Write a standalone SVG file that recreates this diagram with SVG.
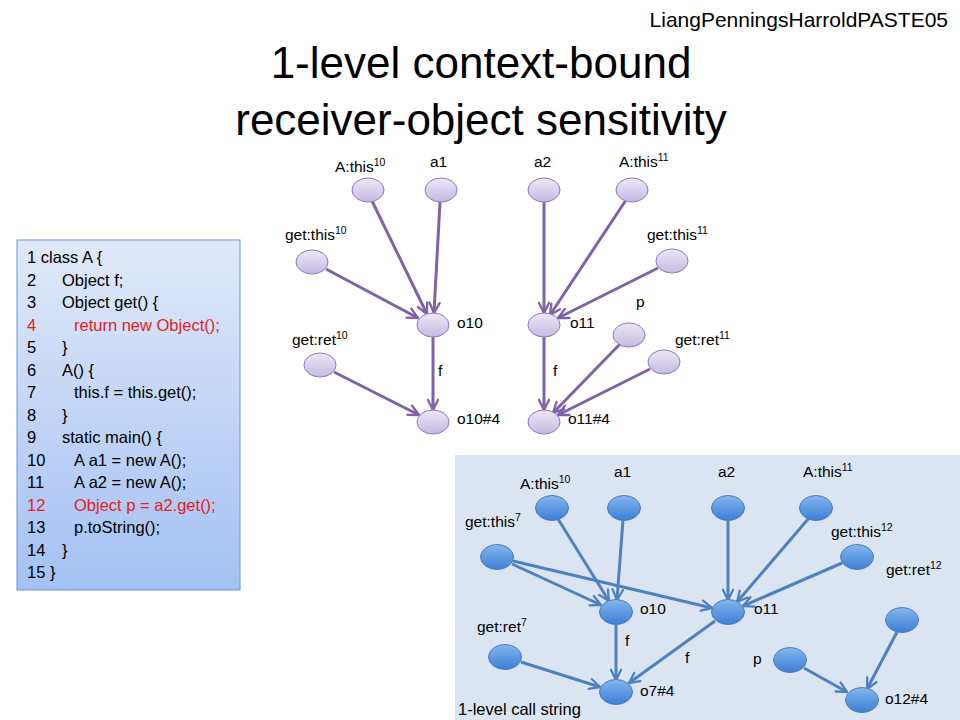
<svg xmlns="http://www.w3.org/2000/svg" width="960" height="720" viewBox="0 0 960 720">
<defs>
<linearGradient id="gCode" x1="0" y1="0" x2="0" y2="1">
<stop offset="0" stop-color="#e0e9f9"/><stop offset="1" stop-color="#a3c1f3"/>
</linearGradient>
<linearGradient id="gPurple" x1="0" y1="0" x2="0" y2="1">
<stop offset="0" stop-color="#ede8f6"/><stop offset="1" stop-color="#c5b9e2"/>
</linearGradient>
<linearGradient id="gBlue" x1="0" y1="0" x2="0" y2="1">
<stop offset="0" stop-color="#86b6ee"/><stop offset="1" stop-color="#3c7ed6"/>
</linearGradient>
<marker id="ap" viewBox="0 0 10 10" refX="9" refY="5" markerWidth="4.3" markerHeight="4.3" orient="auto" markerUnits="strokeWidth">
<path d="M1,1 L9,5 L1,9" fill="none" stroke="#7f63a8" stroke-width="1.8" stroke-linecap="round" stroke-linejoin="round"/>
</marker>
<marker id="ab" viewBox="0 0 10 10" refX="9" refY="5" markerWidth="4.3" markerHeight="4.3" orient="auto" markerUnits="strokeWidth">
<path d="M1,1 L9,5 L1,9" fill="none" stroke="#4f81bd" stroke-width="1.8" stroke-linecap="round" stroke-linejoin="round"/>
</marker>
<style>
text{font-family:"Liberation Sans",Arial,sans-serif;fill:#000}
.t{font-size:44px}
.c{font-size:16.5px}
.r{fill:#e51c23}
.l{font-size:15.5px}
.s{font-size:10.5px}
.np{fill:url(#gPurple);stroke:#8b7bbd;stroke-width:1}
.nb{fill:url(#gBlue);stroke:#4a7ebb;stroke-width:1}
.ep{stroke:#7f63a8;stroke-width:3;fill:none;marker-end:url(#ap)}
.eb{stroke:#4f81bd;stroke-width:3;fill:none;marker-end:url(#ab)}
</style>
</defs>
<rect width="960" height="720" fill="#ffffff"/>
<text x="948" y="27" text-anchor="end" font-size="21">LiangPenningsHarroldPASTE05</text>
<text class="t" x="481" y="78" text-anchor="middle">1-level context-bound</text>
<text class="t" x="481" y="135" text-anchor="middle">receiver-object sensitivity</text>

<g id="code">
<rect x="17" y="240" width="223" height="350" fill="url(#gCode)" stroke="#6f96d0" stroke-width="1"/>
<text class="c" x="27" y="263">1 class A {</text>
<text class="c" x="27" y="285.5">2</text><text class="c" x="62" y="285.5">Object f;</text>
<text class="c" x="27" y="308">3</text><text class="c" x="62" y="308">Object get() {</text>
<text class="c r" x="27" y="330.5">4</text><text class="c r" x="74" y="330.5">return new Object();</text>
<text class="c" x="27" y="353">5</text><text class="c" x="62" y="353">}</text>
<text class="c" x="27" y="375.5">6</text><text class="c" x="62" y="375.5">A() {</text>
<text class="c" x="27" y="398">7</text><text class="c" x="74" y="398">this.f = this.get();</text>
<text class="c" x="27" y="420.5">8</text><text class="c" x="62" y="420.5">}</text>
<text class="c" x="27" y="443">9</text><text class="c" x="62" y="443">static main() {</text>
<text class="c" x="27" y="465.5">10</text><text class="c" x="74" y="465.5">A a1 = new A();</text>
<text class="c" x="27" y="488">11</text><text class="c" x="74" y="488">A a2 = new A();</text>
<text class="c r" x="27" y="510.5">12</text><text class="c r" x="74" y="510.5">Object p = a2.get();</text>
<text class="c" x="27" y="533">13</text><text class="c" x="74" y="533">p.toString();</text>
<text class="c" x="27" y="555.5">14</text><text class="c" x="62" y="555.5">}</text>
<text class="c" x="27" y="578">15 }</text>
</g>

<rect id="panel" x="455" y="455" width="505" height="265" fill="#dbe5f1"/>

<g id="connectors">
<line class="ep" x1="372" y1="201" x2="427" y2="314"/>
<line class="ep" x1="440" y1="202" x2="434" y2="313"/>
<line class="ep" x1="326" y1="269" x2="418" y2="318"/>
<line class="ep" x1="433" y1="337" x2="433" y2="410"/>
<line class="ep" x1="334" y1="372" x2="419" y2="415"/>
<line class="ep" x1="544" y1="202" x2="544" y2="313"/>
<line class="ep" x1="626" y1="200" x2="550" y2="315"/>
<line class="ep" x1="658" y1="268" x2="558" y2="318"/>
<line class="ep" x1="544" y1="337" x2="544" y2="410"/>
<line class="ep" x1="620" y1="344" x2="553" y2="413"/>
<line class="ep" x1="650" y1="369" x2="558" y2="415"/>

<line class="eb" x1="558" y1="519" x2="609" y2="601"/>
<line class="eb" x1="623" y1="520" x2="617" y2="600"/>
<line class="eb" x1="512" y1="564" x2="601" y2="605"/>
<line class="eb" x1="513" y1="561" x2="712" y2="608"/>
<line class="eb" x1="616" y1="625" x2="616" y2="680"/>
<line class="eb" x1="715" y1="621" x2="629" y2="683"/>
<line class="eb" x1="521" y1="662" x2="600" y2="687"/>
<line class="eb" x1="728" y1="521" x2="728" y2="600"/>
<line class="eb" x1="809" y1="518" x2="737" y2="602"/>
<line class="eb" x1="842" y1="563" x2="743" y2="606"/>
<line class="eb" x1="897" y1="632" x2="867" y2="689"/>
<line class="eb" x1="804" y1="668" x2="847" y2="692"/>
</g>

<g id="edge-labels">
<text class="l" x="438" y="376">f</text>
<text class="l" x="553" y="376">f</text>
<text class="l" x="625" y="646">f</text>
<text class="l" x="685" y="663">f</text>
</g>

<g id="n-Athis10"><ellipse class="np" cx="368" cy="190" rx="16" ry="12"/><text class="l" x="335" y="172">A:this<tspan class="s" dy="-6">10</tspan></text></g>
<g id="n-a1"><ellipse class="np" cx="441" cy="190" rx="16" ry="12"/><text class="l" x="430" y="167">a1</text></g>
<g id="n-getthis10"><ellipse class="np" cx="312" cy="262" rx="16" ry="12"/><text class="l" x="285" y="240">get:this<tspan class="s" dy="-6">10</tspan></text></g>
<g id="n-o10"><ellipse class="np" cx="433" cy="325" rx="16" ry="12"/><text class="l" x="457" y="328">o10</text></g>
<g id="n-getret10"><ellipse class="np" cx="320" cy="365" rx="16" ry="12"/><text class="l" x="292" y="345">get:ret<tspan class="s" dy="-6">10</tspan></text></g>
<g id="n-o10h4"><ellipse class="np" cx="433" cy="422" rx="16" ry="12"/><text class="l" x="457" y="424">o10#4</text></g>
<g id="n-a2"><ellipse class="np" cx="544" cy="190" rx="16" ry="12"/><text class="l" x="534" y="167">a2</text></g>
<g id="n-Athis11"><ellipse class="np" cx="632" cy="190" rx="16" ry="12"/><text class="l" x="619" y="167">A:this<tspan class="s" dy="-6">11</tspan></text></g>
<g id="n-getthis11"><ellipse class="np" cx="672" cy="261" rx="16" ry="12"/><text class="l" x="647" y="240">get:this<tspan class="s" dy="-6">11</tspan></text></g>
<g id="n-o11"><ellipse class="np" cx="544" cy="325" rx="16" ry="12"/><text class="l" x="570" y="328">o11</text></g>
<g id="n-p"><ellipse class="np" cx="629" cy="335" rx="16" ry="12"/><text class="l" x="636" y="307">p</text></g>
<g id="n-getret11"><ellipse class="np" cx="664" cy="362" rx="16" ry="12"/><text class="l" x="675" y="345">get:ret<tspan class="s" dy="-6">11</tspan></text></g>
<g id="n-o11h4"><ellipse class="np" cx="544" cy="422" rx="16" ry="12"/><text class="l" x="568" y="424">o11#4</text></g>

<g id="b-Athis10"><ellipse class="nb" cx="552" cy="508" rx="16.5" ry="12.5"/><text class="l" x="520" y="489">A:this<tspan class="s" dy="-6">10</tspan></text></g>
<g id="b-a1"><ellipse class="nb" cx="624" cy="508" rx="16.5" ry="12.5"/><text class="l" x="614" y="477">a1</text></g>
<g id="b-getthis7"><ellipse class="nb" cx="497" cy="557" rx="16.5" ry="12.5"/><text class="l" x="465" y="527">get:this<tspan class="s" dy="-6">7</tspan></text></g>
<g id="b-o10"><ellipse class="nb" cx="616" cy="612" rx="16.5" ry="12.5"/><text class="l" x="640" y="614">o10</text></g>
<g id="b-getret7"><ellipse class="nb" cx="505" cy="657" rx="16.5" ry="12.5"/><text class="l" x="477" y="632">get:ret<tspan class="s" dy="-6">7</tspan></text></g>
<g id="b-o7h4"><ellipse class="nb" cx="616" cy="692" rx="16.5" ry="12.5"/><text class="l" x="640" y="696">o7#4</text></g>
<g id="b-a2"><ellipse class="nb" cx="728" cy="508" rx="16.5" ry="12.5"/><text class="l" x="718" y="477">a2</text></g>
<g id="b-Athis11"><ellipse class="nb" cx="816" cy="508" rx="16.5" ry="12.5"/><text class="l" x="803" y="477">A:this<tspan class="s" dy="-6">11</tspan></text></g>
<g id="b-getthis12"><ellipse class="nb" cx="857" cy="557" rx="16.5" ry="12.5"/><text class="l" x="831" y="537">get:this<tspan class="s" dy="-6">12</tspan></text></g>
<g id="b-o11"><ellipse class="nb" cx="728" cy="612" rx="16.5" ry="12.5"/><text class="l" x="754" y="614">o11</text></g>
<g id="b-getret12"><ellipse class="nb" cx="902" cy="620" rx="16.5" ry="12.5"/><text class="l" x="886" y="575">get:ret<tspan class="s" dy="-6">12</tspan></text></g>
<g id="b-p"><ellipse class="nb" cx="790" cy="660" rx="16.5" ry="12.5"/><text class="l" x="753" y="664">p</text></g>
<g id="b-o12h4"><ellipse class="nb" cx="862" cy="700" rx="16.5" ry="12.5"/><text class="l" x="885" y="704">o12#4</text></g>

<text x="458" y="715" font-size="16.5">1-level call string</text>
</svg>
